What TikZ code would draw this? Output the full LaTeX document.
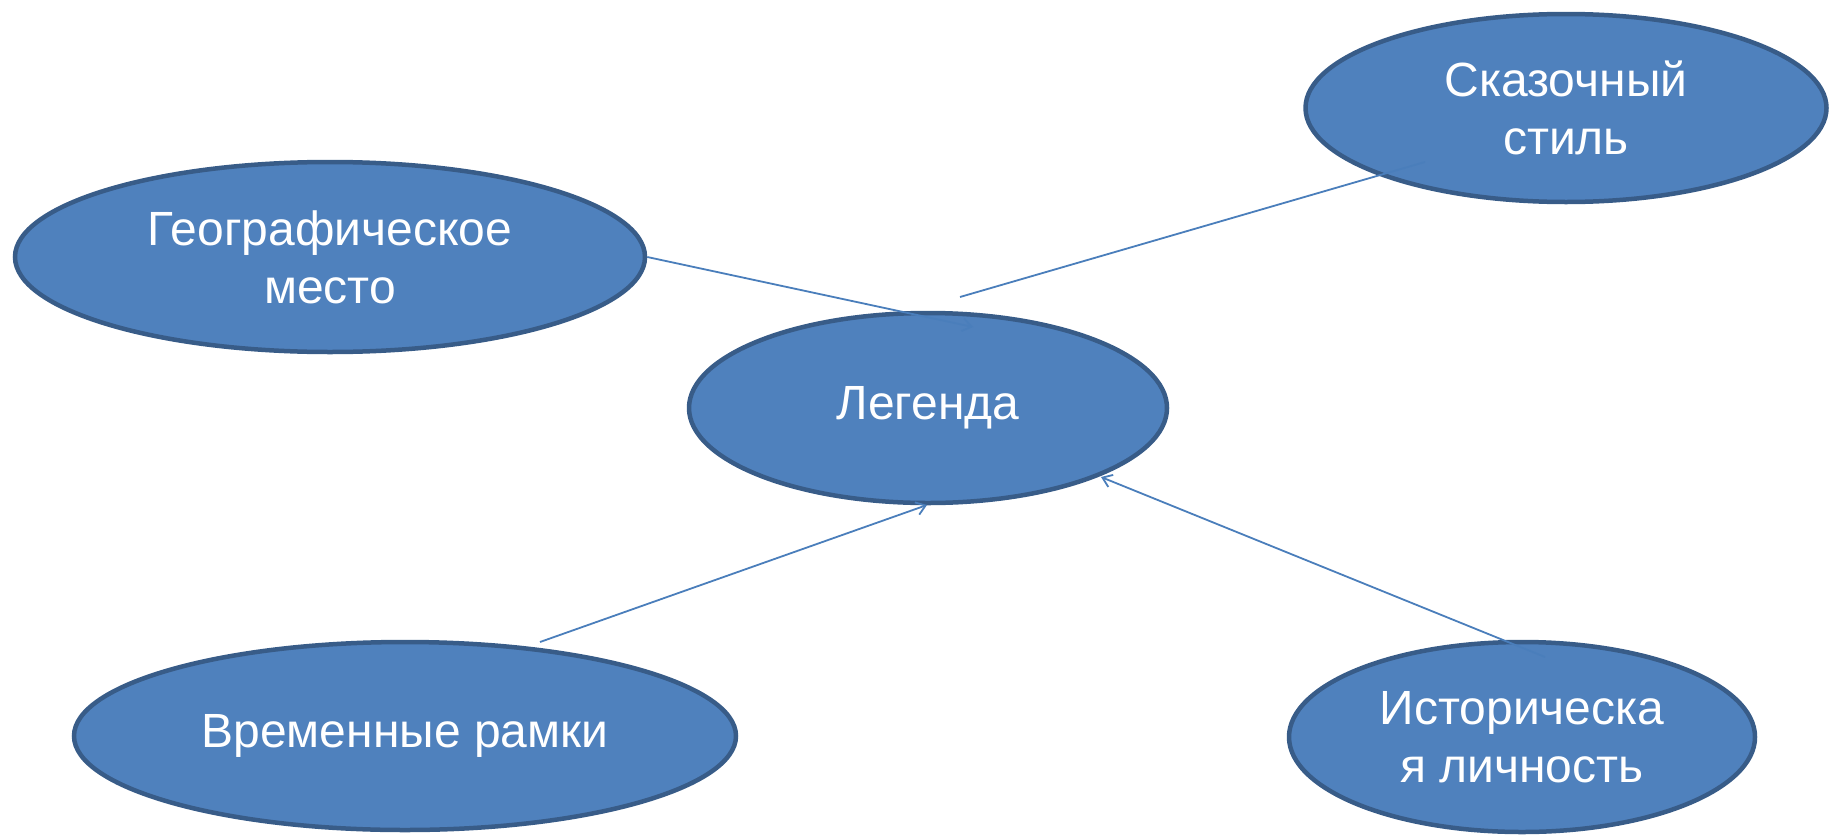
\documentclass[tikz,border=0pt]{standalone}
\usepackage{fontspec}
\setmainfont{Liberation Sans}
\usetikzlibrary{shapes.geometric,arrows.meta}
\definecolor{fillblue}{HTML}{4F81BD}
\definecolor{edgeblue}{HTML}{385C88}
\definecolor{lineblue}{HTML}{4A7EBB}
\tikzset{
  bubble/.style={ellipse, draw=edgeblue, line width=4.5pt, fill=fillblue, inner sep=0pt,
    text=white, align=center, font=\fontsize{48}{58}\selectfont},
  link/.style={draw=lineblue, line width=1.8pt},
  linkarrow/.style={link, -{Straight Barb[length=9pt,width=13pt,line width=1.8pt]}}
}
\begin{document}
\begin{tikzpicture}[x=1pt,y=-1pt]
\useasboundingbox (0,0) rectangle (1830,835);
\node[bubble, minimum width=630pt, minimum height=190pt] (geo) at (330,257) {Географическое\\место};
\node[bubble, minimum width=521pt, minimum height=188pt] (skaz) at (1566,108) {Сказочный\\стиль};
\node[bubble, minimum width=478pt, minimum height=190pt] (leg) at (928,408) {Легенда};
\node[bubble, minimum width=662pt, minimum height=188pt] (vrem) at (405,736) {Временные рамки};
\node[bubble, minimum width=466pt, minimum height=190pt] (ist) at (1522,737) {Историческа\\я личность};
\coordinate (gtip) at (973,327);
\coordinate (sfree) at (960,297);
\coordinate (send) at (1425,162);
\coordinate (vstart) at (540,642);
\coordinate (vtip) at (927,505);
\coordinate (istart) at (1545,657);
\coordinate (itip) at (1101,477);
\draw[linkarrow] (geo.east) -- (gtip);
\draw[link] (sfree) -- (send);
\draw[linkarrow] (vstart) -- (vtip);
\draw[linkarrow] (istart) -- (itip);
\end{tikzpicture}
\end{document}
